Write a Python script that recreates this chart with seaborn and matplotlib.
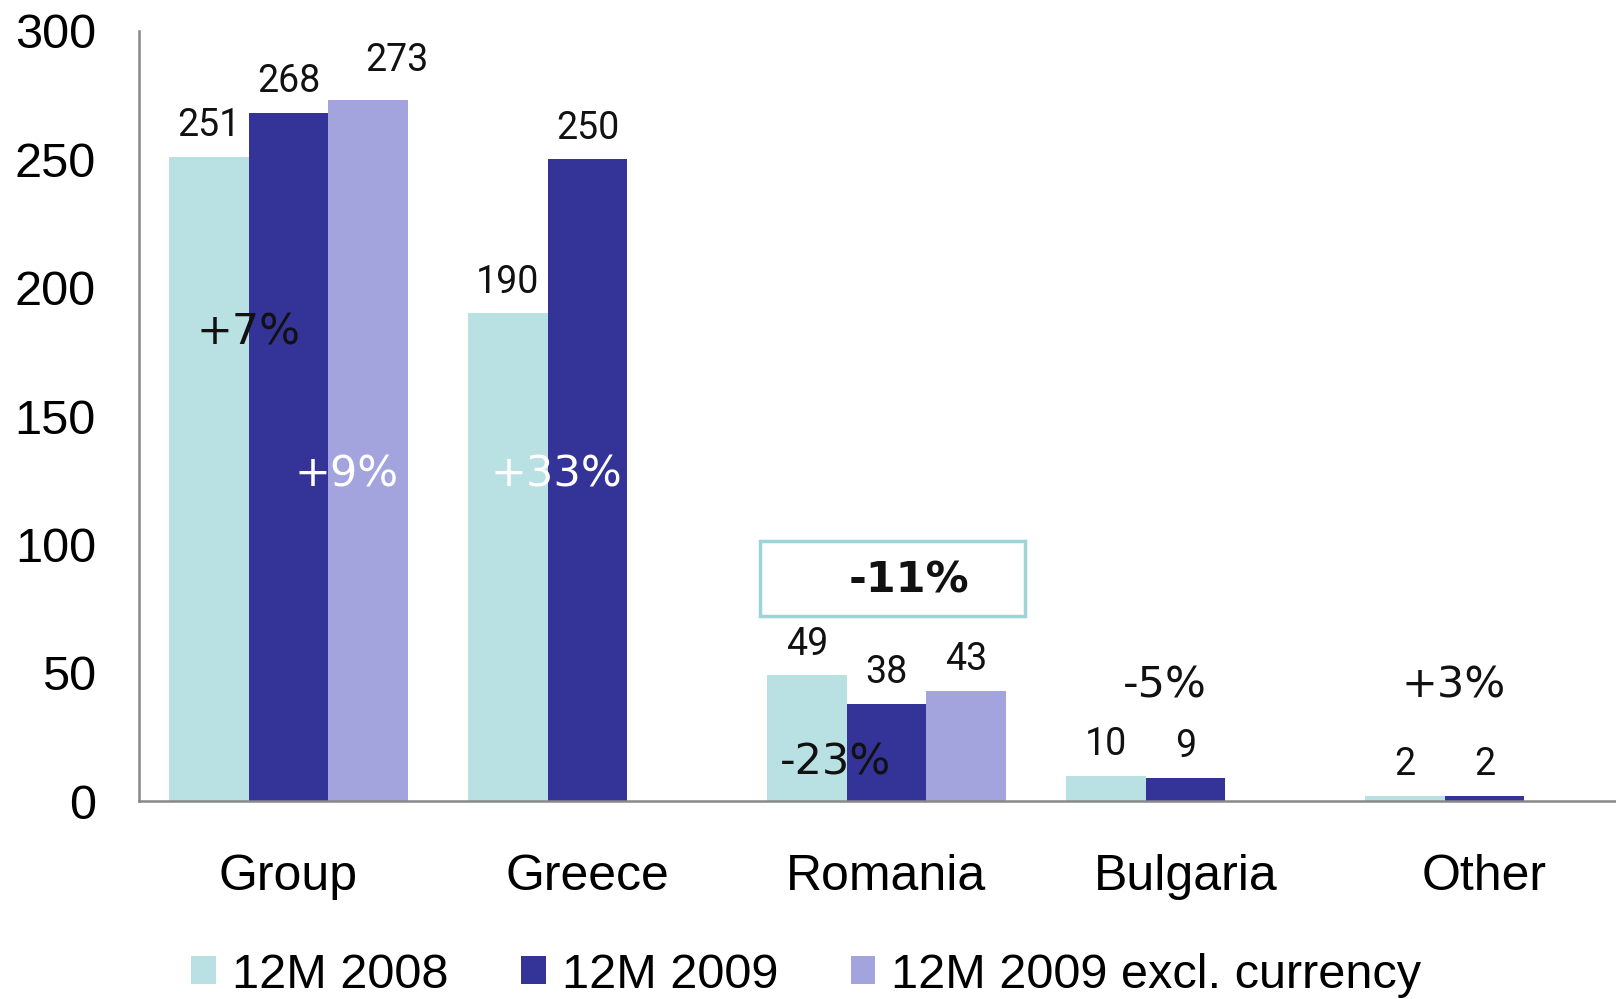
import matplotlib
matplotlib.use("Agg")
import matplotlib.pyplot as plt
import seaborn as sns
import pandas as pd
from matplotlib.patches import Rectangle

# ---- data ----
categories = ["Group", "Greece", "Romania", "Bulgaria", "Other"]
series_names = ["12M 2008", "12M 2009", "12M 2009 excl. currency"]
v2008 = [251, 190, 49, 10, 2]
v2009 = [268, 250, 38, 9, 2]
v2009_excl = [273, None, 43, None, None]
yticks = [0, 50, 100, 150, 200, 250, 300]

pct_labels = ["+7%", "+9%", "+33%", "-11%", "-23%", "-5%", "+3%"]

# ---- build long table ----
rows = []
for name, vals in zip(series_names, [v2008, v2009, v2009_excl]):
    for c, v in zip(categories, vals):
        if v is not None:
            rows.append({"category": c, "series": name, "value": v})
df = pd.DataFrame(rows)

sns.set_style("white")
plt.rcParams["font.family"] = ["Liberation Sans", "DejaVu Sans"]
plt.rcParams["text.color"] = "black"
plt.rcParams["xtick.color"] = "black"
plt.rcParams["ytick.color"] = "black"

colors = ["#B9E0E3", "#343397", "#A3A3DE"]

fig = plt.figure(figsize=(16.16, 9.99), dpi=100)
ax = fig.add_axes([0.086, 0.198, 0.914, 0.771])

sns.barplot(data=df, x="category", y="value", hue="series", order=categories,
            hue_order=series_names, palette=colors, width=0.8, saturation=1,
            errorbar=None, ax=ax, linewidth=0)

ax.set_xlim(-0.5, 4.44)
ax.set_ylim(0, 300)
ax.set_yticks(yticks)
ax.set_yticklabels([str(t) for t in yticks], fontsize=35)
ax.tick_params(axis="y", length=0, pad=31, labelcolor="black")
ax.tick_params(axis="x", length=0, pad=38, labelsize=36, labelcolor="black")
ax.set_xlabel("")
ax.set_ylabel("")
for s in ["top", "right"]:
    ax.spines[s].set_visible(False)
for s in ["left", "bottom"]:
    ax.spines[s].set_color("#888888")
    ax.spines[s].set_linewidth(1.8)

# data labels above bars
for ci, cont in enumerate(ax.containers):
    for bar in cont:
        h = bar.get_height()
        if h != h or h == 0:
            continue
        dx, dy = 0, 15
        if ci == 2 and round(h) == 273:
            dx, dy = 21, 21
        ax.annotate(f"{int(round(h))}",
                    (bar.get_x() + bar.get_width() / 2, h),
                    xytext=(dx, dy), textcoords="offset points",
                    ha="center", va="baseline", fontsize=27,
                    family=["Roboto", "DejaVu Sans"], color="#111111")

# growth annotations
pct_pos = [(-0.134, 182.7), (0.193, 127.3), (0.897, 127.3), (2.076, 85.9),
           (1.828, 14.9), (2.931, 45.0), (3.897, 45.0)]
pct_colors = ["#111111", "white", "white", "#111111", "#111111", "#111111", "#111111"]
pct_weights = ["normal", "normal", "normal", "bold", "normal", "normal", "normal"]
for t, (x, y), c, w in zip(pct_labels, pct_pos, pct_colors, pct_weights):
    ax.text(x, y, t, ha="center", va="center", fontsize=31, color=c,
            fontweight=w, family=["DejaVu Sans"])

# box around Romania growth
ax.add_patch(Rectangle((1.576, 72.3), 0.886, 28.9, fill=False,
                       edgecolor="#9DD4D6", linewidth=2.5, clip_on=False))

# legend
handles, labels = ax.get_legend_handles_labels()
if ax.get_legend() is not None:
    ax.get_legend().remove()
fig.legend(handles, labels, loc="center", bbox_to_anchor=(0.499, 0.024),
           ncol=3, frameon=False, fontsize=35, handlelength=0.5,
           handleheight=0.5, handletextpad=0.33, columnspacing=1.5,
           borderaxespad=0, borderpad=0)

fig.savefig("out.png", dpi=100)
